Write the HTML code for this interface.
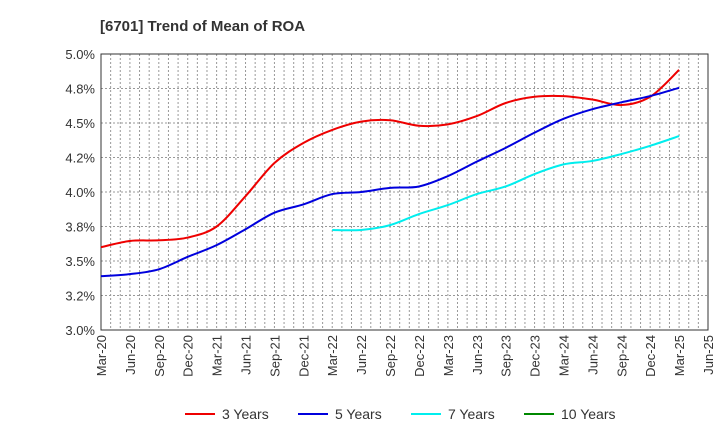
<!DOCTYPE html>
<html><head><meta charset="utf-8"><style>
body{margin:0;background:#fff;font-family:"Liberation Sans",sans-serif}
svg text{font-family:"Liberation Sans",sans-serif}
</style></head><body>
<svg id="chart" width="720" height="440" xmlns="http://www.w3.org/2000/svg">
<text x="100" y="31" font-size="15" font-weight="bold" fill="#333">[6701]  Trend of Mean of ROA</text>
<g id="grid"></g><g id="axes"></g><g id="series"></g><g id="legend"></g>
</svg>
<script>
const xLabels=["Mar-20","Jun-20","Sep-20","Dec-20","Mar-21","Jun-21","Sep-21","Dec-21","Mar-22","Jun-22","Sep-22","Dec-22","Mar-23","Jun-23","Sep-23","Dec-23","Mar-24","Jun-24","Sep-24","Dec-24","Mar-25","Jun-25"];
const yTicks=[3.0,3.25,3.5,3.75,4.0,4.25,4.5,4.75,5.0];
const yTickLabels=["3.0%","3.2%","3.5%","3.8%","4.0%","4.2%","4.5%","4.8%","5.0%"];
const seriesNames=["3 Years","5 Years","7 Years","10 Years"];
const seriesColors=["#ee0000","#0000dd","#00eeee","#008800"];
const y3=[3.60,3.645,3.65,3.67,3.75,3.97,4.21,4.355,4.45,4.51,4.52,4.48,4.49,4.55,4.645,4.69,4.695,4.67,4.63,4.69,4.885];
const y5=[3.39,3.405,3.44,3.53,3.615,3.73,3.85,3.91,3.985,4.0,4.03,4.04,4.115,4.22,4.32,4.43,4.53,4.60,4.65,4.695,4.755];
const y7=[null,null,null,null,null,null,null,null,3.725,3.725,3.76,3.84,3.905,3.985,4.04,4.13,4.20,4.225,4.275,4.335,4.405];
const y10=[];
const L=101,R=708,T=54,B=330;
const xs=i=>L+i*(R-L)/(xLabels.length-1);
const ys=v=>B-(v-3)/2*(B-T);
const NS="http://www.w3.org/2000/svg";
function mk(p,tag,at){const e=document.createElementNS(NS,tag);for(const k in at)e.setAttribute(k,at[k]);p.appendChild(e);return e;}
const grid=document.getElementById('grid'),axes=document.getElementById('axes'),ser=document.getElementById('series'),leg=document.getElementById('legend');
for(let m=1;m<(xLabels.length-1)*3;m++){const x=L+m*(R-L)/((xLabels.length-1)*3);
 const l=mk(grid,'line',{x1:x,x2:x,y1:T,y2:B,stroke:'#999','stroke-dasharray':'2,2','stroke-width':1});
 
 }
yTicks.forEach((v,i)=>{const y=ys(v);
 if(i>0&&i<yTicks.length-1){const l=mk(grid,'line',{x1:L,x2:R,y1:y,y2:y,stroke:'#999','stroke-dasharray':'2,2'});
 
 }
 const t=mk(axes,'text',{x:L-6,y:y+5,'text-anchor':'end','font-size':13,fill:'#333'});t.textContent=yTickLabels[i];
 
 });
xLabels.forEach((s,i)=>{const x=xs(i);
 const t=mk(axes,'text',{transform:`translate(${x+5},${B+5}) rotate(-90)`,'text-anchor':'end','font-size':13,fill:'#333'});t.textContent=s;
 
 });
const fr=mk(axes,'rect',{x:L,y:T,width:R-L,height:B-T,fill:'none',stroke:'#333','stroke-width':1});


function path(arr){const pts=[];arr.forEach((v,i)=>{if(v!=null)pts.push([xs(i),ys(v)]);});
 if(pts.length<2)return '';let d=`M${pts[0][0]},${pts[0][1]}`;
 for(let i=0;i<pts.length-1;i++){const p0=pts[Math.max(0,i-1)],p1=pts[i],p2=pts[i+1],p3=pts[Math.min(pts.length-1,i+2)];
 d+=` C${p1[0]+(p2[0]-p0[0])/6},${p1[1]+(p2[1]-p0[1])/6} ${p2[0]-(p3[0]-p1[0])/6},${p2[1]-(p3[1]-p1[1])/6} ${p2[0]},${p2[1]}`;}return d;}
[y3,y5,y7,y10].forEach((arr,k)=>{const d=path(arr);if(!d)return;
 const p=mk(ser,'path',{d:d,fill:'none',stroke:seriesColors[k],'stroke-width':2});
 
 });
seriesNames.forEach((n,k)=>{const x0=185+k*113;
 const g=mk(leg,'g',{});
 
 
 mk(g,'line',{x1:x0,x2:x0+30,y1:414,y2:414,stroke:seriesColors[k],'stroke-width':2});
 const t=mk(g,'text',{x:x0+37,y:419,'font-size':14,fill:'#333'});t.textContent=n;});
</script>
</body></html>
